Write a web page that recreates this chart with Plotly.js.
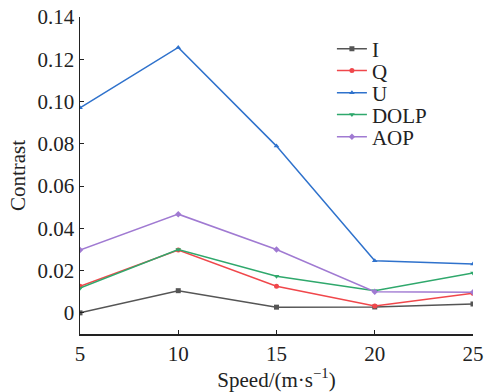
<!DOCTYPE html>
<html>
<head>
<meta charset="utf-8">
<script src="https://cdn.plot.ly/plotly-3.0.1.min.js"></script>
<style>html,body{margin:0;padding:0;background:#fff;}#chart{width:484px;height:392px;}</style>
</head>
<body>
<div id="chart"></div>
<script>
const speeds = [5, 10, 15, 20, 25];
const seriesNames = ["I", "Q", "U", "DOLP", "AOP"];
const I_vals = [0.0000, 0.0105, 0.0027, 0.0028, 0.0042];
const Q_vals = [0.0126, 0.0297, 0.0126, 0.0032, 0.0093];
const U_vals = [0.0970, 0.1256, 0.0789, 0.0247, 0.0231];
const DOLP_vals = [0.0117, 0.0300, 0.0173, 0.0105, 0.0189];
const AOP_vals = [0.0297, 0.0467, 0.0300, 0.0100, 0.0098];
const xTicks = [5, 10, 15, 20, 25];
const yTicks = [0, 0.02, 0.04, 0.06, 0.08, 0.10, 0.12, 0.14];
const yTickLabels = ["0", "0.02", "0.04", "0.06", "0.08", "0.10", "0.12", "0.14"];

const colors = ["#555555", "#f0474b", "#2f72cc", "#2fa86c", "#a07ad2"];
const symbols = ["square", "circle", "triangle-up", "triangle-down", "diamond"];
const allVals = [I_vals, Q_vals, U_vals, DOLP_vals, AOP_vals];

const FONT = "'Liberation Serif', 'Times New Roman', serif";
const FS = 21;
const legendIds = ["legend", "legend2", "legend3", "legend4", "legend5"];
const legendCenters = [0.899, 0.830, 0.760, 0.691, 0.621];

const traces = seriesNames.map((n, i) => ({
  x: speeds, y: allVals[i], name: n, type: "scatter", mode: "lines+markers",
  legend: legendIds[i],
  line: {color: colors[i], width: 1.5},
  marker: {color: colors[i], symbol: symbols[i], size: 5}
}));

const layout = {
  width: 484, height: 392,
  margin: {l: 80, r: 11, t: 17, b: 58},
  paper_bgcolor: "#fff", plot_bgcolor: "#fff",
  font: {family: FONT, size: FS, color: "#222"},
  showlegend: true,
  xaxis: {range: [5, 25], tickvals: xTicks, ticks: "inside", ticklen: 4, tickcolor: "#222",
          showline: true, linecolor: "#222", linewidth: 1.5, showgrid: false, zeroline: false,
          title: {text: "Speed/(m·s<sup>−1</sup>)", font: {family: FONT, size: FS, color: "#222"}, standoff: 6},
          tickfont: {family: FONT, size: FS, color: "#222"}},
  yaxis: {range: [-0.01, 0.14], tickvals: yTicks, ticktext: yTickLabels, ticks: "inside", ticklen: 4, tickcolor: "#222",
          showline: true, linecolor: "#222", linewidth: 1.5, showgrid: false, zeroline: false,
          title: {text: "Contrast", font: {family: FONT, size: FS, color: "#222"}, standoff: 6},
          tickfont: {family: FONT, size: FS, color: "#222"}}
};
legendIds.forEach((id, i) => {
  layout[id] = {x: 0.641, y: legendCenters[i], xanchor: "left", yanchor: "middle",
                bgcolor: "rgba(0,0,0,0)", font: {family: FONT, size: FS, color: "#222"},
                itemwidth: 30};
});

Plotly.newPlot("chart", traces, layout, {displayModeBar: false, staticPlot: true});
</script>
</body>
</html>
